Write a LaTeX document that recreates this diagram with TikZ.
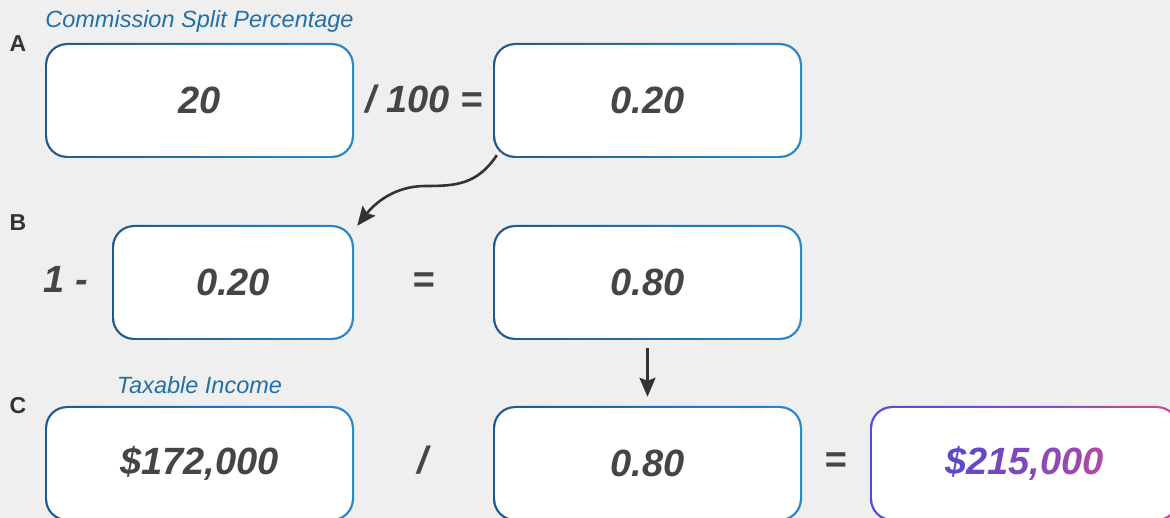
\documentclass[tikz,border=0pt]{standalone}
\usepackage{fontspec}
\setmainfont{Liberation Sans}
\usetikzlibrary{arrows.meta,calc}
\definecolor{bg}{HTML}{EFEFEF}
\definecolor{bdl}{HTML}{1F5A8C}
\definecolor{bdr}{HTML}{2A88C6}
\definecolor{gl}{HTML}{4F4CD8}
\definecolor{gr}{HTML}{C24E9C}
\definecolor{tl}{HTML}{5E48CC}
\definecolor{tr}{HTML}{A84AA6}
\definecolor{txt}{HTML}{454545}
\definecolor{lab}{HTML}{333333}
\definecolor{cap}{HTML}{2270A8}
\tikzset{
  valbox/.style={rounded corners=22pt, minimum width=309pt, minimum height=115pt, inner sep=0pt,
    left color=#1, right color=bdr,
    path picture={\fill[white, rounded corners=20pt]
      ([shift={(2.2pt,2.2pt)}]path picture bounding box.south west) rectangle
      ([shift={(-2.2pt,-2.2pt)}]path picture bounding box.north east);},
    text=txt, font=\fontsize{38}{40}\selectfont\bfseries\itshape},
  valbox/.default=bdl,
  gradbox/.style={valbox, left color=gl, right color=gr},
  op/.style={text=txt, font=\fontsize{38}{40}\selectfont\bfseries\itshape, inner sep=0pt},
  rowlab/.style={text=lab, font=\fontsize{23}{25}\selectfont\bfseries, inner sep=0pt},
  capt/.style={text=cap, font=\fontsize{23.5}{25}\selectfont\itshape, inner sep=0pt},
  conn/.style={draw=lab, line width=2.6pt, -{Stealth[length=19pt,width=16pt,inset=3pt]}}
}
\begin{document}
\begin{tikzpicture}[x=1pt,y=-1pt]
\useasboundingbox (0,0) rectangle (1170,518);
\fill[bg] (0,0) rectangle (1170,518);
% row labels
\node[rowlab] (la) at (18,44) {A};
\node[rowlab] (lb) at (18,223) {B};
\node[rowlab] (lc) at (18,406) {C};
% captions
\node[capt] (cap1) at (199.5,21) {Commission Split Percentage};
\node[capt] (cap2) at (199.5,385) {Taxable Income};
% row A
\node[valbox] (a1) at (199.5,100.5) {20};
\node[op] (opa) at (424,99) {/ 100 =};
\node[valbox] (a2) at (647.5,100.5) {0.20};
% row B
\node[op] (opb1) at (66,279) {1 -};
\node[valbox] (b1) at (233,282.5) [minimum width=242pt] {0.20};
\node[op] (opb2) at (424,283) {=};
\node[valbox] (b2) at (647.5,282.5) {0.80};
% row C
\node[valbox] (c1) at (199.5,463.5) {\$172,000};
\node[op] (opc1) at (423,460) {/};
\node[valbox] (c2) at (647.5,463.5) {0.80};
\node[op] (opc2) at (836,463) {=};
\node[gradbox] (c3) at (1024.5,463.5) {\textcolor{tr!0!tl}{\$}\textcolor{tr!14!tl}{2}\textcolor{tr!28!tl}{1}\textcolor{tr!42!tl}{5}\textcolor{tr!56!tl}{,}\textcolor{tr!66!tl}{0}\textcolor{tr!80!tl}{0}\textcolor{tr!100!tl}{0}};
% connectors
\draw[conn] ([shift={(4pt,3pt)}]a2.south west) .. controls (477,185) and (455,186) .. (425,186)
  .. controls (395,186) and (375,203) .. ([shift={(3pt,-1pt)}]b1.north east);
\draw[conn] ([yshift=-8pt]b2.south) -- ([yshift=9pt]c2.north);
\end{tikzpicture}
\end{document}
